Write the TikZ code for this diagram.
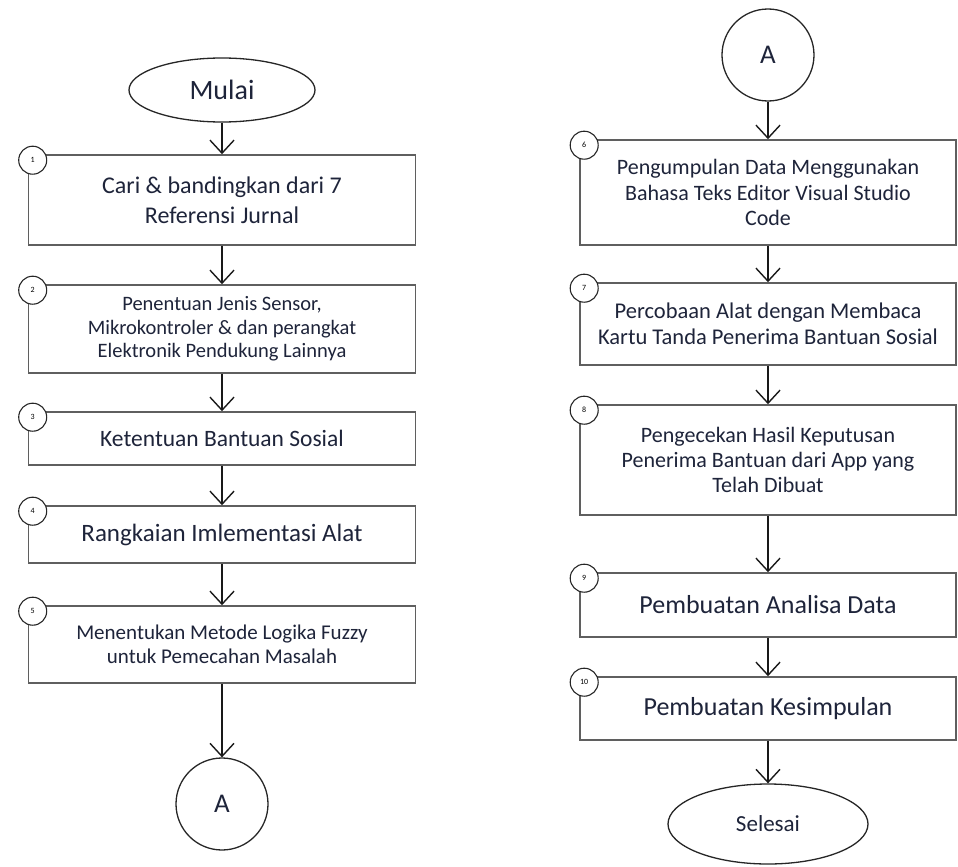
\documentclass[tikz,border=0pt]{standalone}
\usepackage{fontspec}
\setmainfont{Carlito}
\usetikzlibrary{arrows.meta,shapes.geometric}
\definecolor{txt}{RGB}{30,36,58}
\definecolor{boxc}{RGB}{95,95,95}
\begin{document}
\begin{tikzpicture}[x=1pt,y=-1pt,
  box/.style={draw=boxc,line width=1.6pt,fill=white,rectangle,align=center,text=txt,inner sep=2pt},
  leftbox/.style={box,minimum width=387pt},
  rightbox/.style={box,minimum width=376pt},
  term/.style={draw=black!85,line width=1.3pt,ellipse,fill=white,text=txt,inner sep=0pt},
  conn/.style={draw=black!85,line width=1.3pt,circle,fill=white,text=txt,inner sep=0pt,minimum size=92pt,font=\fontsize{27}{30}\selectfont},
  numc/.style={draw=black!85,line width=1.1pt,circle,fill=white,inner sep=0pt,minimum size=28pt,font=\fontsize{8}{9}\selectfont},
  arr/.style={draw=black!90,line width=1.4pt,-{Straight Barb[length=13pt,width=24pt,line width=1.4pt]}},
  fs/.style={font=\fontsize{#1}{#1*1.15}\selectfont}
]
\useasboundingbox (0,0) rectangle (958,867);

% left column
\node[term,minimum width=186pt,minimum height=64pt,font=\fontsize{28}{32}\selectfont] (mulai) at (222,90) {Mulai};
\node[leftbox,minimum height=90pt,font=\fontsize{24}{30}\selectfont] (b1) at (222,200) {Cari \& bandingkan dari 7\\Referensi Jurnal};
\node[leftbox,minimum height=88pt,font=\fontsize{20.5}{23.5}\selectfont] (b2) at (222,329) {Penentuan Jenis Sensor,\\Mikrokontroler \& dan perangkat\\Elektronik Pendukung Lainnya};
\node[leftbox,minimum height=53pt,font=\fontsize{23.5}{27}\selectfont] (b3) at (222,438.5) {Ketentuan Bantuan Sosial};
\node[leftbox,minimum height=57pt,font=\fontsize{25}{28}\selectfont] (b4) at (222,534.5) {Rangkaian Imlementasi Alat};
\node[leftbox,minimum height=77pt,font=\fontsize{21}{24.5}\selectfont] (b5) at (222,644.5) {Menentukan Metode Logika Fuzzy\\untuk Pemecahan Masalah};
\node[conn] (a1) at (222,804) {A};

% right column
\node[conn] (a2) at (768,55) {A};
\node[rightbox,minimum height=105pt,font=\fontsize{22}{25.5}\selectfont] (b6) at (768,192.5) {Pengumpulan Data Menggunakan\\Bahasa Teks Editor Visual Studio\\Code};
\node[rightbox,minimum height=82pt,font=\fontsize{22.5}{25.5}\selectfont] (b7) at (768,324) {Percobaan Alat dengan Membaca\\Kartu Tanda Penerima Bantuan Sosial};
\node[rightbox,minimum height=110pt,font=\fontsize{22}{25}\selectfont] (b8) at (768,460) {Pengecekan Hasil Keputusan\\Penerima Bantuan dari App yang\\Telah Dibuat};
\node[rightbox,minimum height=64pt,font=\fontsize{26}{29}\selectfont] (b9) at (768,605) {Pembuatan Analisa Data};
\node[rightbox,minimum height=63pt,font=\fontsize{26}{29}\selectfont] (b10) at (768,708.5) {Pembuatan Kesimpulan};
\node[term,minimum width=200pt,minimum height=80pt,font=\fontsize{23}{26}\selectfont] (selesai) at (768,824) {Selesai};

% number circles
\foreach \b/\n in {b1/1,b2/2,b3/3,b4/4,b5/5,b6/6,b7/7,b8/8,b9/9,b10/10}
  \node[numc] (n\n) at ([shift={(5pt,-6pt)}]\b.north west) {\n};

% connectors
\draw[arr] (mulai) -- (b1);
\draw[arr] (b1) -- (b2);
\draw[arr] (b2) -- (b3);
\draw[arr] (b3) -- (b4);
\draw[arr] (b4) -- (b5);
\draw[arr] (b5) -- (a1);
\draw[arr] (a2) -- (b6);
\draw[arr] (b6) -- (b7);
\draw[arr] (b7) -- (b8);
\draw[arr] (b8) -- (b9);
\draw[arr] (b9) -- (b10);
\draw[arr] (b10) -- (selesai);
\end{tikzpicture}
\end{document}
